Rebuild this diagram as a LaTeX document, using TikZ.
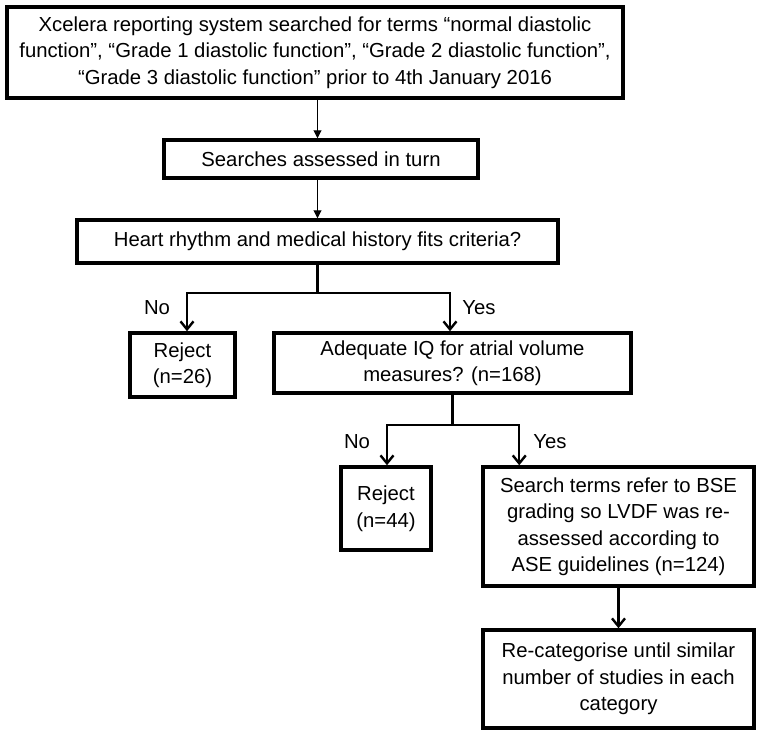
\documentclass[tikz,border=0pt]{standalone}
\usepackage{fontspec}
\setmainfont{Liberation Sans}
\usetikzlibrary{arrows.meta,calc}
\begin{document}
\begin{tikzpicture}[x=1pt,y=-1pt,
  box/.style={draw,line width=3.5pt,align=center,inner sep=0pt,
    font=\fontsize{20.3}{26.5}\selectfont},
  thinarrow/.style={line width=1pt,-{Triangle[length=8pt,width=8pt]}},
  brancharrow/.style={line width=2.4pt,-{Straight Barb[length=8pt,width=13pt,line width=2.4pt]}},
  branchline/.style={line width=2.4pt},
  lbl/.style={font=\fontsize{20.3}{24}\selectfont,inner sep=0pt}]
\useasboundingbox (0,0) rectangle (762,737);
\node[box,minimum width=616pt,minimum height=91pt] (b1) at (315,52.5)
  {Xcelera reporting system searched for terms “normal diastolic\\
   function”, “Grade 1 diastolic function”, “Grade 2 diastolic function”,\\
   “Grade 3 diastolic function” prior to 4th January 2016};
\node[box,minimum width=314pt,minimum height=38pt] (b2) at (321,159)
  {Searches assessed in turn};
\node[box,minimum width=481pt,minimum height=43pt] (b3) at (317.5,241.5)
  {Heart rhythm and medical history fits criteria?};
\node[box,minimum width=105pt,minimum height=64pt] (r1) at (182.5,365)
  {Reject\\(n=26)};
\node[box,minimum width=357pt,minimum height=60pt] (b4) at (452.5,363)
  {Adequate IQ for atrial volume\\measures? (n=168)};
\node[box,minimum width=90pt,minimum height=83pt] (r2) at (386,508.5)
  {Reject\\(n=44)};
\node[box,minimum width=271pt,minimum height=119pt] (b5) at (618.5,526.5)
  {Search terms refer to BSE\\grading so LVDF was re-\\assessed according to\\ASE guidelines (n=124)};
\node[box,minimum width=271pt,minimum height=98pt] (b6) at (618.5,679)
  {Re-categorise until similar\\number of studies in each\\category};

\draw[thinarrow] (b1.south -| b3.north) -- (b2.north -| b3.north);
\draw[thinarrow] (b2.south -| b3.north) -- (b3.north);

\coordinate (j1) at (317.5,293);
\draw[branchline] (b3.south) -- (j1);
\coordinate (r1t) at ($(r1.north)+(4.5,0)$);
\coordinate (b4t) at ($(b4.north)+(-2.5,0)$);
\draw[brancharrow] (j1) -| (r1t);
\draw[brancharrow] (j1) -| (b4t);
\node[lbl] (no1) at (157,308) {No};
\node[lbl] (yes1) at (479,308) {Yes};

\coordinate (j2) at (452.5,425);
\draw[branchline] (b4.south) -- (j2);
\coordinate (r2t) at ($(r2.north)+(1,0)$);
\coordinate (b5t) at ($(b5.north west)+(38,0)$);
\draw[brancharrow] (j2) -| (r2t);
\draw[brancharrow] (j2) -| (b5t);
\node[lbl] (no2) at (357,442) {No};
\node[lbl] (yes2) at (550,442) {Yes};

\draw[brancharrow] (b5.south) -- (b6.north);
\end{tikzpicture}
\end{document}
